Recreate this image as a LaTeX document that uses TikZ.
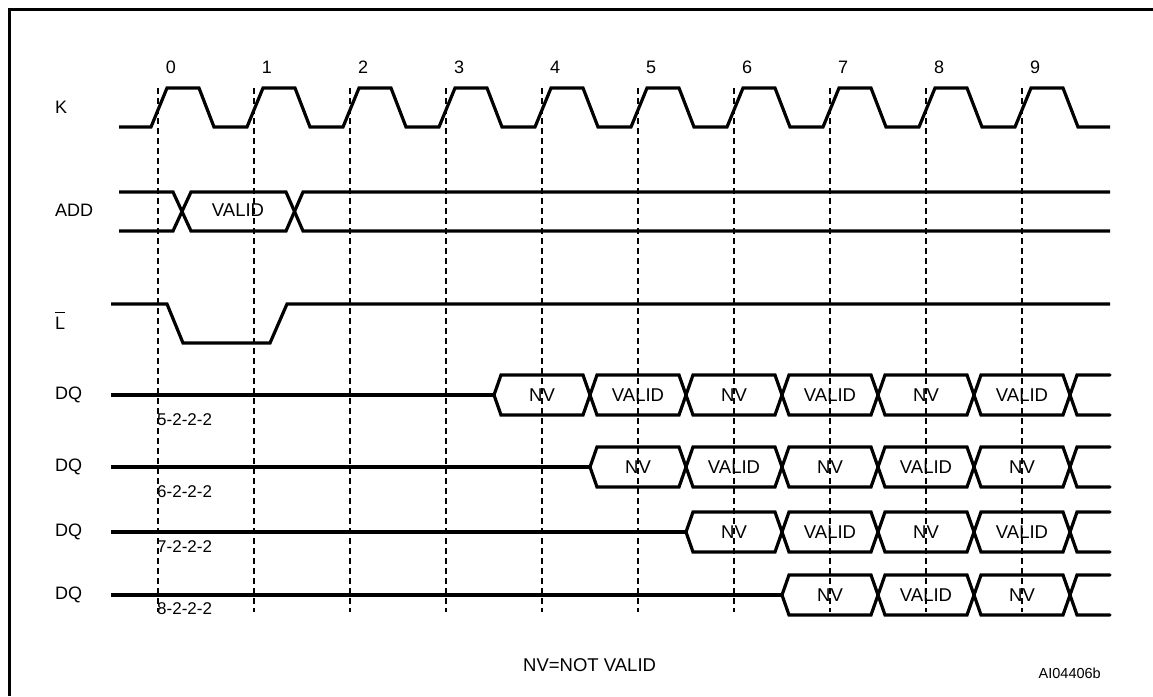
\documentclass[tikz,border=0pt]{standalone}
\usepackage{fontspec}
\setmainfont{Liberation Sans}
\begin{document}
\begin{tikzpicture}[x=1pt,y=-1pt,
  wave/.style={line width=3.2pt,line join=miter},
  buswave/.style={line width=3.2pt,line cap=round,line join=miter},
  edge/.style={line width=1.3pt,dash pattern=on 6pt off 4pt},
  every node/.style={inner sep=0pt,font=\fontsize{18}{21}\selectfont},
  busname/.style={font=\fontsize{18.5}{22}\selectfont},
  latency/.style={anchor=west,font=\fontsize{17}{20}\selectfont}]
\useasboundingbox (0,0) rectangle (1153,696);
\draw[line width=3pt] (9,696) -- (9,9) -- (1153,9);
% clock edges and their numbers
\foreach \k in {0,...,9} {
  \draw[edge] ({158+96*\k},88) -- ({158+96*\k},612);
  \node (n\k) at ({171+96*\k},67) {\k};
}
% K
\node[anchor=west] (k) at (55,107) {K};
\draw[wave] (119,127) \foreach \k in {0,...,9} {
  -- ({151+96*\k},127) -- ({167+96*\k},88) -- ({199+96*\k},88) -- ({214+96*\k},127)}
  -- (1110,127);
% ADD
\node[anchor=west] (add) at (55,210) {ADD};
\draw[wave] (119,192) -- (173,192) -- (191,231) -- (286,231) -- (303,192) -- (1110,192);
\draw[wave] (119,231) -- (173,231) -- (191,192) -- (286,192) -- (303,231) -- (1110,231);
\node[busname] (addv) at (238,210) {VALID};
% L
\node[anchor=west] (l) at (55,323) {L};
\draw[line width=1.3pt] ([yshift=4pt]l.north west) -- ([yshift=4pt]l.north east);
\draw[wave] (111,304) -- (167,304) -- (183,343) -- (270,343) -- (287,304) -- (1110,304);
% DQ for the four latencies
\foreach \r/\y/\t in {0/395/420,1/467/492,2/532/547,3/595/609} {
  \node[anchor=west] (dq\r) at (55,\y) {DQ};
  \node[latency] (lat\r) at (157,\t) {\the\numexpr5+\r\relax-2-2-2};
  \draw[wave] (111,\y) -- ({494+96*\r},\y);
  \foreach \j in {\r,...,5} {
    \draw[buswave] ({494+96*\j},\y) -- ({501+96*\j},\y-20) -- ({583+96*\j},\y-20) -- ({590+96*\j},\y);
    \draw[buswave] ({494+96*\j},\y) -- ({501+96*\j},\y+20) -- ({583+96*\j},\y+20) -- ({590+96*\j},\y);
    \node[busname] (d\r\j) at ({542+96*\j},\y) {\ifodd\numexpr\j-\r\relax VALID\else NV\fi};
  }
  \draw[buswave] (1070,\y) -- (1077,\y-20) -- (1110,\y-20);
  \draw[buswave] (1070,\y) -- (1077,\y+20) -- (1110,\y+20);
}
\node[anchor=west,busname] (nv) at (523,665) {NV=NOT VALID};
\node[anchor=east,font=\fontsize{14.5}{17}\selectfont] (fig) at (1101,673) {AI04406b};
\end{tikzpicture}
\end{document}
